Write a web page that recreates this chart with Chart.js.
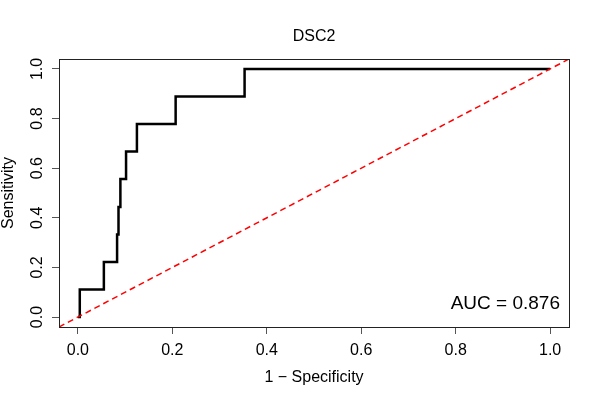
<!DOCTYPE html>
<html>
<head>
<meta charset="utf-8">
<script src="https://cdn.jsdelivr.net/npm/chart.js@4.4.1/dist/chart.umd.min.js"></script>
<style>
  html, body { margin: 0; padding: 0; background: #fff; }
  #wrap { width: 600px; height: 400px; }
</style>
</head>
<body>
<div id="wrap"><canvas id="roc" width="600" height="400"></canvas></div>
<script>
// ROC curve of DSC2, corners
const fpr = [0, 0.004, 0.004, 0.055, 0.055, 0.083, 0.083, 0.086, 0.086, 0.090, 0.090,
             0.102, 0.102, 0.125, 0.125, 0.207, 0.207, 0.353, 0.353, 1.0];
const tpr = [0, 0, 0.111, 0.111, 0.222, 0.222, 0.333, 0.333, 0.444, 0.444, 0.556,
             0.556, 0.667, 0.667, 0.778, 0.778, 0.889, 0.889, 1.0, 1.0];

const axisLimits = [-0.04, 1.04];
const xTicks = [0, 0.2, 0.4, 0.6, 0.8, 1.0];
const yTicks = [0, 0.2, 0.4, 0.6, 0.8, 1.0];

const titleText = 'DSC2';
const xTitle = '1 \u2212 Specificity';
const yTitle = 'Sensitivity';
const aucText = 'AUC = 0.876';

const FONT = '"Liberation Sans", Arial, Helvetica, sans-serif';

const rocPoints = fpr.map((x, i) => ({ x, y: tpr[i] }));
// y = x reference line across the whole plot region
const diagonal = axisLimits.map(v => ({ x: v, y: v }));

// box round the plot, title and AUC label
const frame = {
  id: 'frame',
  afterDraw(chart) {
    const { ctx, chartArea: a } = chart;
    ctx.save();
    ctx.strokeStyle = '#222';
    ctx.lineWidth = 1;
    ctx.strokeRect(a.left + 0.5, a.top + 0.5, a.right - a.left, a.bottom - a.top);

    ctx.fillStyle = '#000';
    ctx.textBaseline = 'middle';
    ctx.textAlign = 'center';
    ctx.font = '16px ' + FONT;
    ctx.fillText(titleText, (a.left + a.right) / 2, 37);

    ctx.textAlign = 'right';
    ctx.font = '19px ' + FONT;
    ctx.fillText(aucText, a.right - 9, a.bottom - 23);
    ctx.restore();
  }
};

function fixTicks(list) {
  return scale => { scale.ticks = list.map(v => ({ value: v })); };
}

new Chart(document.getElementById('roc'), {
  type: 'scatter',
  data: {
    datasets: [
      {
        data: diagonal,
        showLine: true,
        borderColor: '#ff0000',
        borderWidth: 1.5,
        borderDash: [6, 4],
        pointRadius: 0,
        order: 0
      },
      {
        data: rocPoints,
        showLine: true,
        borderColor: '#000',
        borderWidth: 2.5,
        pointRadius: 0,
        order: 1
      }
    ]
  },
  options: {
    responsive: false,
    animation: false,
    layout: { padding: { top: 59, right: 31, left: 0, bottom: 0 } },
    plugins: {
      legend: { display: false },
      tooltip: { enabled: false },
      title: { display: false }
    },
    scales: {
      x: {
        type: 'linear',
        min: axisLimits[0],
        max: axisLimits[1],
        afterBuildTicks: fixTicks(xTicks),
        afterFit: s => { s.height = 73; },
        grid: { drawOnChartArea: false, tickLength: 7, color: '#555' },
        border: { display: false },
        ticks: {
          color: '#000',
          padding: 7,
          font: { family: FONT, size: 16 },
          maxRotation: 0,
          callback: v => v.toFixed(1)
        },
        title: {
          display: true,
          text: xTitle,
          color: '#000',
          font: { family: FONT, size: 16, lineHeight: 1.2 },
          padding: { top: 0, bottom: 13 }
        }
      },
      y: {
        type: 'linear',
        min: axisLimits[0],
        max: axisLimits[1],
        afterBuildTicks: fixTicks(yTicks),
        afterFit: s => { s.width = 59; },
        grid: { drawOnChartArea: false, tickLength: 7, color: '#555' },
        border: { display: false },
        ticks: {
          color: '#000',
          padding: 3,
          minRotation: 90,
          maxRotation: 90,
          crossAlign: 'center',
          font: { family: FONT, size: 16 },
          callback: v => v.toFixed(1)
        },
        title: {
          display: true,
          text: yTitle,
          color: '#000',
          font: { family: FONT, size: 16, lineHeight: 1 },
          padding: { top: 1, bottom: 0 }
        }
      }
    }
  },
  plugins: [frame]
});
</script>
</body>
</html>
